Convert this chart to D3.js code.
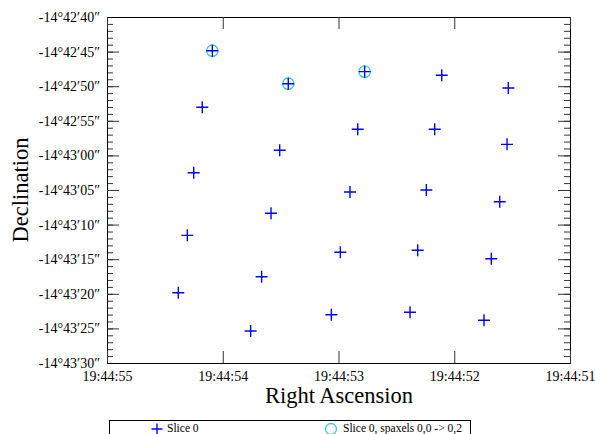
<!DOCTYPE html>
<html><head><meta charset="utf-8">
<script src="https://cdn.jsdelivr.net/npm/d3@7"></script>
<style>
html,body{margin:0;padding:0;background:#fff;}
svg{display:block;font-family:"Liberation Serif","Times New Roman",serif;}
</style></head>
<body>
<script>
// RA in seconds of 19:44:xx, Dec in arcsec beyond -14°42'00"
const sliceRA  = [54.090,53.434,52.774,52.108,51.533,54.177,52.834,52.169,53.508,51.544,54.251,52.901,52.241,51.607,53.583,54.306,52.984,52.316,51.680,53.664,54.384,53.062,52.382,51.743,53.759];
const sliceDec = [44.87,49.64,47.90,48.42,50.26,53.05,56.23,56.23,59.26,58.40,62.50,65.29,65.00,66.69,68.37,71.55,74.00,73.71,74.93,77.53,79.84,83.02,82.67,83.83,85.38];
const spaxelRA  = [54.090,53.434,52.774];
const spaxelDec = [44.87,49.64,47.90];
const raTicks  = [55,54,53,52,51];
const decTicks = [40,45,50,55,60,65,70,75,80,85,90];
const decMinor = d3.range(40,91,1);
const legendLabels = ["Slice 0","Slice 0, spaxels 0,0 -> 0,2"];

const W=595,H=434;
const L=107,R=570,T=17,B=363;
const svg=d3.select("body").append("svg").attr("width",W).attr("height",H);
const x=d3.scaleLinear().domain([55,51]).range([L,R]);
const y=d3.scaleLinear().domain([40,90]).range([T,B]);

const pad=n=>String(n).padStart(2,"0");
const decFmt=d=>{const m=d>=60?43:42;const s=d>=60?d-60:d;return "-14\u00B0"+m+"\u2032"+pad(s)+"\u2033";};
const raFmt=d=>"19:44:"+pad(d);

function style(g){g.selectAll("path.domain").attr("stroke","#000");g.selectAll(".tick line").attr("stroke","#333");g.selectAll("text").attr("fill","#000").attr("font-family","Liberation Serif").attr("font-size",14);}

// left
svg.append("g").attr("transform",`translate(${L},0)`).call(d3.axisLeft(y).tickValues(decMinor).tickSize(-6).tickSizeOuter(0).tickFormat("")).call(style);
svg.append("g").attr("transform",`translate(${L},0)`).call(d3.axisLeft(y).tickValues(decTicks).tickSize(-12).tickSizeOuter(0).tickPadding(7).tickFormat(decFmt)).call(style);
// right
svg.append("g").attr("transform",`translate(${R},0)`).call(d3.axisRight(y).tickValues(decMinor).tickSize(-6).tickSizeOuter(0).tickFormat("")).call(style);
svg.append("g").attr("transform",`translate(${R},0)`).call(d3.axisRight(y).tickValues(decTicks).tickSize(-12).tickSizeOuter(0).tickFormat("")).call(style);
// bottom
svg.append("g").attr("transform",`translate(0,${B})`).call(d3.axisBottom(x).tickValues(raTicks).tickSize(-12).tickSizeOuter(0).tickPadding(8).tickFormat(raFmt)).call(style);
// top
svg.append("g").attr("transform",`translate(0,${T})`).call(d3.axisTop(x).tickValues(raTicks).tickSize(-12).tickSizeOuter(0).tickFormat("")).call(style);

// titles
svg.append("text").attr("x",339).attr("y",403).attr("text-anchor","middle").attr("font-size",22.5).attr("fill","#000").text("Right Ascension");
svg.append("text").attr("transform",`translate(28,${(T+B)/2}) rotate(-90)`).attr("text-anchor","middle").attr("font-size",22.5).attr("fill","#000").text("Declination");

// spaxel circles
svg.append("g").selectAll("circle").data(spaxelRA.map((r,i)=>[r,spaxelDec[i]])).join("circle")
 .attr("cx",d=>x(d[0])).attr("cy",d=>y(d[1])).attr("r",5.7).attr("fill","none").attr("stroke","#3cc8c8").attr("stroke-width",1.3);

// plus markers
const plus=(g,cx,cy,s)=>g.append("path").attr("d",`M${cx-s},${cy}H${cx+s}M${cx},${cy-s}V${cy+s}`).attr("stroke","#0000ff").attr("stroke-width",1.4).attr("fill","none");
const pg=svg.append("g");
sliceRA.forEach((r,i)=>plus(pg,x(r),y(sliceDec[i]),6));

// legend
const lg=svg.append("g");
lg.append("rect").attr("x",109.5).attr("y",420.5).attr("width",361).attr("height",30).attr("fill","#fff").attr("stroke","#000").attr("stroke-width",1);
plus(lg,157,429,5.5);
lg.append("text").attr("x",167).attr("y",432).attr("font-size",11.5).attr("fill","#000").text(legendLabels[0]);
lg.append("circle").attr("cx",331).attr("cy",429).attr("r",5.5).attr("fill","none").attr("stroke","#3cc8c8").attr("stroke-width",1.3);
lg.append("text").attr("x",343).attr("y",432).attr("font-size",11.5).attr("fill","#000").text(legendLabels[1]);
</script>
</body></html>
